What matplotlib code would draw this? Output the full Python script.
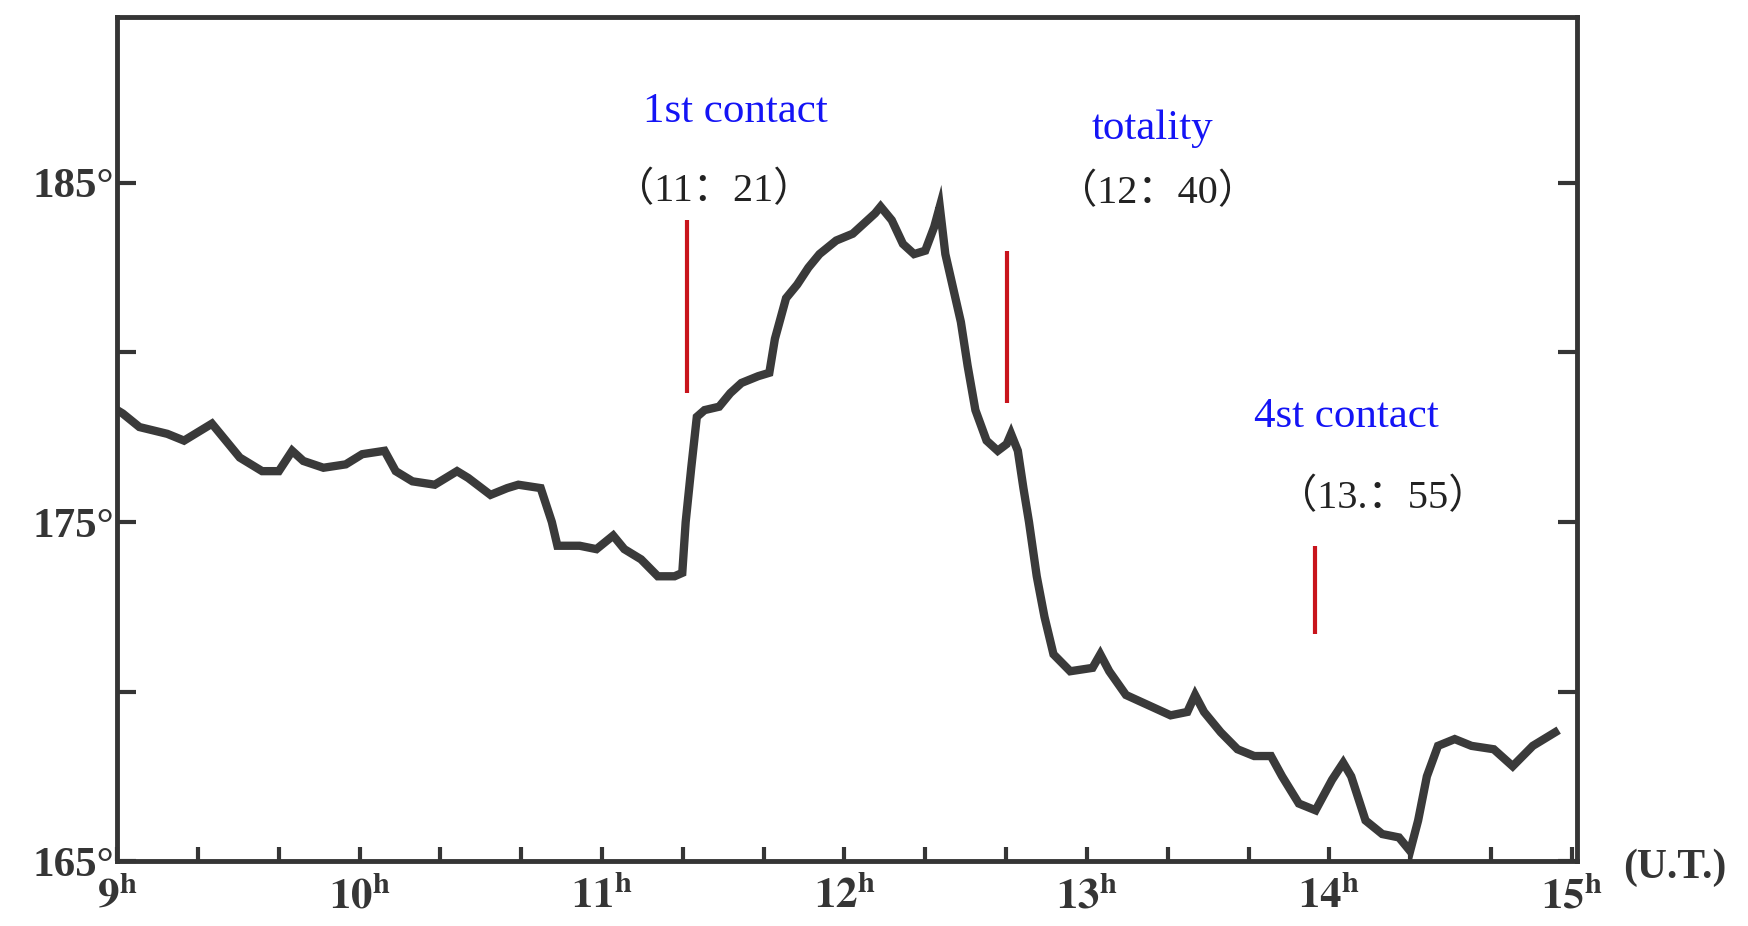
import numpy as np
import matplotlib
matplotlib.use('Agg')
import matplotlib.pyplot as plt
from matplotlib.ticker import MultipleLocator, FixedLocator

# time (hours, U.T.) and reading (degrees)
t = [9.000, 9.023, 9.092, 9.207, 9.276, 9.345, 9.391, 9.437, 9.506, 9.598,
     9.667, 9.722, 9.768, 9.851, 9.943, 10.011, 10.103, 10.149, 10.218, 10.310,
     10.402, 10.448, 10.540, 10.609, 10.655, 10.747, 10.793, 10.816, 10.908, 10.977,
     11.046, 11.092, 11.161, 11.230, 11.299, 11.331, 11.345, 11.368, 11.391, 11.423,
     11.483, 11.529, 11.575, 11.644, 11.690, 11.713, 11.759, 11.805, 11.851, 11.897,
     11.966, 12.034, 12.080, 12.126, 12.149, 12.195, 12.241, 12.287, 12.333, 12.370,
     12.393, 12.416, 12.448, 12.480, 12.508, 12.540, 12.586, 12.632, 12.669, 12.687,
     12.715, 12.738, 12.761, 12.793, 12.825, 12.862, 12.931, 13.023, 13.055, 13.092,
     13.161, 13.253, 13.345, 13.414, 13.446, 13.483, 13.552, 13.621, 13.690, 13.759,
     13.805, 13.874, 13.943, 14.011, 14.057, 14.090, 14.149, 14.218, 14.287, 14.333,
     14.366, 14.402, 14.448, 14.517, 14.586, 14.678, 14.756, 14.839, 14.931]
deg = [178.3, 178.2, 177.8, 177.6, 177.4, 177.7, 177.9, 177.5, 176.9, 176.5,
       176.5, 177.1, 176.8, 176.6, 176.7, 177.0, 177.1, 176.5, 176.2, 176.1,
       176.5, 176.3, 175.8, 176.0, 176.1, 176.0, 175.0, 174.3, 174.3, 174.2,
       174.6, 174.2, 173.9, 173.4, 173.4, 173.5, 175.0, 176.6, 178.1, 178.3,
       178.4, 178.8, 179.1, 179.3, 179.4, 180.4, 181.6, 182.0, 182.5, 182.9,
       183.3, 183.5, 183.8, 184.1, 184.3, 183.9, 183.2, 182.9, 183.0, 183.7,
       184.3, 182.9, 181.9, 180.9, 179.6, 178.3, 177.4, 177.1, 177.3, 177.6,
       177.1, 176.0, 175.0, 173.4, 172.2, 171.1, 170.6, 170.7, 171.1, 170.6,
       169.9, 169.6, 169.3, 169.4, 169.9, 169.4, 168.8, 168.3, 168.1, 168.1,
       167.5, 166.7, 166.5, 167.4, 167.9, 167.5, 166.2, 165.8, 165.7, 165.3,
       166.2, 167.5, 168.4, 168.6, 168.4, 168.3, 167.8, 168.4, 168.8]

contact_names = ['1st contact', 'totality', '4st contact']
contact_times = ['（11：21）', '（12：40）', '（13.：55）']
contact_t = [11.35, 12.67, 13.94]

hour_ticks = [9, 10, 11, 12, 13, 14, 15]
hour_labels = [r'$\mathbf{%d^{h}}$' % h for h in hour_ticks]
deg_ticks = [165, 175, 185]
deg_labels = ['165°', '175°', '185°']

plt.rcParams['mathtext.fontset'] = 'stix'
dark = '#353535'

fig = plt.figure(figsize=(17.48, 9.26), dpi=100)
ax = fig.add_axes([0.067, 0.070, 0.835, 0.912])

ax.plot(t, deg, color='#3a3a3a', lw=6, solid_joinstyle='miter')

ax.set_xlim(9, 15.02)
ax.set_ylim(165, 189.9)

for s in ax.spines.values():
    s.set_linewidth(3.5)
    s.set_color(dark)

ax.xaxis.set_major_locator(FixedLocator(hour_ticks))
ax.xaxis.set_minor_locator(MultipleLocator(1 / 3))
ax.set_xticks(hour_ticks)
ax.set_xticklabels(hour_labels)
ax.set_yticks(deg_ticks)
ax.set_yticklabels(deg_labels)
ax.yaxis.set_minor_locator(MultipleLocator(5))

ax.tick_params(axis='both', which='both', direction='in', color=dark, width=3)
ax.tick_params(axis='x', which='major', length=10, pad=10, labelsize=31,
               labelcolor=dark)
ax.tick_params(axis='x', which='minor', length=10)
ax.tick_params(axis='y', which='both', length=14, right=True, labelsize=31,
               pad=2, labelcolor=dark)
for lab in ax.get_yticklabels():
    lab.set_family('Liberation Serif')
    lab.set_fontweight('bold')

# the longer tick at the first contact
for tk in ax.xaxis.get_minor_ticks():
    if abs(tk.get_loc() - 11.333) < 0.01:
        tk.tick1line.set_markersize(26)

red = '#c8141c'
blue = '#1414f5'
cjk = ['Liberation Serif', 'Noto Sans CJK SC']
line_spans = [(178.8, 183.9), (178.5, 183.0), (171.7, 174.3)]
name_pos = [(11.55, 187.1), (13.27, 186.6), (14.07, 178.1)]
time_pos = [(11.46, 184.75), (13.29, 184.7), (14.22, 175.7)]

for i in range(3):
    ax.vlines(contact_t[i], line_spans[i][0], line_spans[i][1], color=red, lw=3)
    ax.text(name_pos[i][0], name_pos[i][1], contact_names[i], color=blue,
            fontsize=31, family='Liberation Serif', ha='center', va='center')
    ax.text(time_pos[i][0], time_pos[i][1], contact_times[i], color='#222222',
            fontsize=29, family=cjk, ha='center', va='center')

fig.text(0.958, 0.063, '(U.T.)', fontsize=30, family='Liberation Serif',
         fontweight='bold', color=dark, ha='center', va='center')

fig.savefig('out.png', dpi=100, facecolor='white')
